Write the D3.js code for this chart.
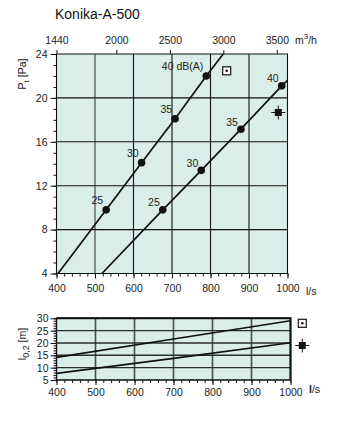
<!DOCTYPE html>
<html>
<head>
<meta charset="utf-8">
<script src="https://cdn.jsdelivr.net/npm/d3@7"></script>
<style>
  html, body { margin: 0; padding: 0; background: #fff; }
  svg { display: block; font-family: "Liberation Sans", Arial, sans-serif; }
  .tick text { font-size: 10.5px; fill: #222; }
</style>
</head>
<body>
<svg id="chart" width="338" height="428"></svg>
<script>
// ---- Data ----
const title = "Konika-A-500";

// Pressure chart: flow (l/s) vs total pressure (Pa)
const flowTicks = [400, 500, 600, 700, 800, 900, 1000];
const m3hTicks = [1440, 2000, 2500, 3000, 3500];
const paTicks = [4, 8, 12, 16, 20, 24];
const dbLevels = [25, 30, 35, 40];

// Curve with the ceiling-mounted (square dot) setting
const curveAFlow = [404, 529, 621, 708, 789, 833];
const curveAPa   = [4, 9.8, 14.1, 18.1, 22.0, 24];
const dotsAFlow  = [529, 621, 708, 789];
const dotsAPa    = [9.8, 14.1, 18.1, 22.0];

// Curve with the free-hanging (filled square) setting
const curveBFlow = [518, 676, 776, 879, 985, 1000];
const curveBPa   = [4, 9.8, 13.4, 17.15, 21.1, 21.6];
const dotsBFlow  = [676, 776, 879, 985];
const dotsBPa    = [9.8, 13.4, 17.15, 21.1];

// Throw chart: flow (l/s) vs throw l0,2 (m)
const throwTicks = [5, 10, 15, 20, 25, 30];
const throwFlow  = [400, 700, 1000];
const throwA     = [14.2, 21.6, 29.0];
const throwB     = [7.7, 13.8, 20.1];

// ---- Drawing ----
const svg = d3.select("#chart");
const BG = "#d9ede9";

svg.append("text").attr("x", 55).attr("y", 19)
  .attr("font-size", 14).attr("fill", "#111").text(title);

// Upper chart scales
const x1 = d3.scaleLinear().domain([400, 1000]).range([56.5, 287.5]);
const xm = d3.scaleLinear().domain([400 * 3.6, 1000 * 3.6]).range([56.5, 287.5]);
const y1 = d3.scaleLinear().domain([4, 24]).range([273.5, 54]);

const g1 = svg.append("g");
g1.append("rect").attr("x", x1(400)).attr("y", y1(24))
  .attr("width", x1(1000) - x1(400)).attr("height", y1(4) - y1(24)).attr("fill", BG);

// grid
g1.selectAll("line.vg").data(flowTicks.slice(1, -1)).join("line")
  .attr("x1", d => x1(d)).attr("x2", d => x1(d)).attr("y1", y1(4)).attr("y2", y1(24))
  .attr("stroke", d => d === 500 ? "#6e7473" : "#111").attr("stroke-width", d => d === 500 ? 1.6 : 1.1);
g1.selectAll("line.hg").data(paTicks.slice(1, -1)).join("line")
  .attr("x1", x1(400)).attr("x2", x1(1000)).attr("y1", d => y1(d)).attr("y2", d => y1(d))
  .attr("stroke", "#111").attr("stroke-width", 1.1);

// frame
g1.append("path")
  .attr("d", `M${x1(400)},${y1(4)}V${y1(24)}H${x1(1000)}V${y1(4)}H${x1(400)}`)
  .attr("fill", "none").attr("stroke", "#111").attr("stroke-width", 1.1);

function styleAxis(sel) {
  sel.select(".domain").remove();
  sel.selectAll(".tick line").attr("stroke", "#111").attr("stroke-width", 1);
}

// axes
g1.append("g").attr("transform", `translate(0,${y1(4)})`)
  .call(d3.axisBottom(x1).tickValues(d3.range(400, 1001, 20)).tickSize(3).tickFormat(""))
  .call(styleAxis);
g1.append("g").attr("transform", `translate(0,${y1(4)})`)
  .call(d3.axisBottom(x1).tickValues(flowTicks).tickSize(5).tickPadding(6).tickFormat(d3.format("d")))
  .call(styleAxis);
g1.append("g").attr("transform", `translate(${x1(400)},0)`)
  .call(d3.axisLeft(y1).tickValues(d3.range(4, 24.1, 1)).tickSize(3).tickFormat(""))
  .call(styleAxis);
g1.append("g").attr("transform", `translate(${x1(400)},0)`)
  .call(d3.axisLeft(y1).tickValues(paTicks).tickSize(6).tickPadding(3).tickFormat(d3.format("d")))
  .call(styleAxis);
g1.append("g").attr("transform", `translate(0,${y1(24)})`)
  .call(d3.axisTop(xm).tickValues(m3hTicks).tickSize(4).tickPadding(6).tickFormat(d3.format("d")))
  .call(styleAxis);

// units
g1.append("text").attr("x", 306).attr("y", 294.5).attr("font-size", 10.5).attr("fill", "#222").text("l/s");
const mt = g1.append("text").attr("x", 295).attr("y", 44).attr("font-size", 10.5).attr("fill", "#222");
mt.append("tspan").text("m");
mt.append("tspan").attr("dy", -5).attr("font-size", 8).text("3");
mt.append("tspan").attr("dy", 5).text("/h");

const yl = g1.append("text").attr("transform", "translate(26,74) rotate(-90)")
  .attr("text-anchor", "middle").attr("font-size", 10.5).attr("fill", "#222");
yl.append("tspan").text("P");
yl.append("tspan").attr("dy", 3).attr("font-size", 8).text("t");
yl.append("tspan").attr("dy", -3).text(" [Pa]");

// curves
const line1 = d3.line().x(d => x1(d[0])).y(d => y1(d[1]));
[[curveAFlow, curveAPa], [curveBFlow, curveBPa]].forEach(([f, p]) => {
  g1.append("path").datum(d3.zip(f, p)).attr("d", line1)
    .attr("fill", "none").attr("stroke", "#111").attr("stroke-width", 1.7);
});
[[dotsAFlow, dotsAPa, -6, true], [dotsBFlow, dotsBPa, -3.5, false]].forEach(([f, p, dy, unit]) => {
  const pts = d3.zip(f, p, dbLevels);
  g1.selectAll(null).data(pts).join("circle")
    .attr("cx", d => x1(d[0])).attr("cy", d => y1(d[1])).attr("r", 3.8).attr("fill", "#111");
  g1.selectAll(null).data(pts).join("text")
    .attr("x", d => x1(d[0]) - 3).attr("y", d => y1(d[1]) + dy)
    .attr("text-anchor", "end").attr("font-size", 10.5).attr("fill", "#222")
    .text((d, i) => unit && i === pts.length - 1 ? `${d[2]} dB(A)` : d[2]);
});

// markers
function markerDot(g, cx, cy) {
  g.append("rect").attr("x", cx - 4).attr("y", cy - 4).attr("width", 8).attr("height", 8)
    .attr("fill", "#fff").attr("stroke", "#111").attr("stroke-width", 1.2);
  g.append("circle").attr("cx", cx).attr("cy", cy).attr("r", 1.3).attr("fill", "#111");
}
function markerFilled(g, cx, cy) {
  g.append("path").attr("d", `M${cx - 7},${cy}H${cx + 7}M${cx},${cy - 7}V${cy + 7}`)
    .attr("stroke", "#111").attr("stroke-width", 1);
  g.append("rect").attr("x", cx - 3.5).attr("y", cy - 3.5).attr("width", 7).attr("height", 7).attr("fill", "#111");
}
markerDot(g1, 226.7, 70.8);
markerFilled(g1, 278.3, 112.5);

// Lower chart
const x2 = d3.scaleLinear().domain([400, 1000]).range([56.5, 290.5]);
const y2 = d3.scaleLinear().domain([5, 30]).range([380, 318.3]);
const g2 = svg.append("g");
g2.append("rect").attr("x", x2(400)).attr("y", y2(30))
  .attr("width", x2(1000) - x2(400)).attr("height", y2(5) - y2(30)).attr("fill", BG);
g2.selectAll(null).data(flowTicks.slice(1, -1)).join("line")
  .attr("x1", d => x2(d)).attr("x2", d => x2(d)).attr("y1", y2(5)).attr("y2", y2(30))
  .attr("stroke", "#4a4f4e").attr("stroke-width", 1.6);
g2.selectAll(null).data(throwTicks.slice(1, -1)).join("line")
  .attr("x1", x2(400)).attr("x2", x2(1000)).attr("y1", d => y2(d)).attr("y2", d => y2(d))
  .attr("stroke", "#2a2e2d").attr("stroke-width", 1.4);
g2.append("path")
  .attr("d", `M${x2(400)},${y2(5)}V${y2(30)}H${x2(1000)}V${y2(5)}H${x2(400)}`)
  .attr("fill", "none").attr("stroke", "#111").attr("stroke-width", 1.4);
g2.append("path")
  .attr("d", `M${x2(400)},${y2(30)}H${x2(1000)}V${y2(5)}`)
  .attr("fill", "none").attr("stroke", "#111").attr("stroke-width", 2);

g2.append("g").attr("transform", `translate(0,${y2(5)})`)
  .call(d3.axisBottom(x2).tickValues(d3.range(400, 1001, 20)).tickSize(3).tickFormat(""))
  .call(styleAxis);
g2.append("g").attr("transform", `translate(0,${y2(5)})`)
  .call(d3.axisBottom(x2).tickValues(flowTicks).tickSize(5).tickPadding(4).tickFormat(d3.format("d")))
  .call(styleAxis);
g2.append("g").attr("transform", `translate(${x2(400)},0)`)
  .call(d3.axisLeft(y2).tickValues(d3.range(5, 30.1, 1)).tickSize(3).tickFormat(""))
  .call(styleAxis);
g2.append("g").attr("transform", `translate(${x2(400)},0)`)
  .call(d3.axisLeft(y2).tickValues(throwTicks).tickSize(6).tickPadding(2).tickFormat(d3.format("d")))
  .call(styleAxis);
g2.selectAll(".tick text").attr("font-size", 11.5);

const us = g2.append("text").attr("x", 309).attr("y", 393).attr("font-size", 10.5).attr("fill", "#222");
us.append("tspan").attr("font-weight", "bold").text("l");
us.append("tspan").text("/s");

const tl = g2.append("text").attr("transform", "translate(26,344) rotate(-90)")
  .attr("text-anchor", "middle").attr("font-size", 10.5).attr("fill", "#222");
tl.append("tspan").text("l");
tl.append("tspan").attr("dy", 3).attr("font-size", 9).text("0,2");
tl.append("tspan").attr("dy", -3).text(" [m]");

const line2 = d3.line().x(d => x2(d[0])).y(d => y2(d[1]));
[throwA, throwB].forEach(v => {
  g2.append("path").datum(d3.zip(throwFlow, v)).attr("d", line2)
    .attr("fill", "none").attr("stroke", "#111").attr("stroke-width", 1.7);
});
markerDot(g2, 302.3, 323.3);
markerFilled(g2, 302.3, 345.5);
</script>
</body>
</html>
